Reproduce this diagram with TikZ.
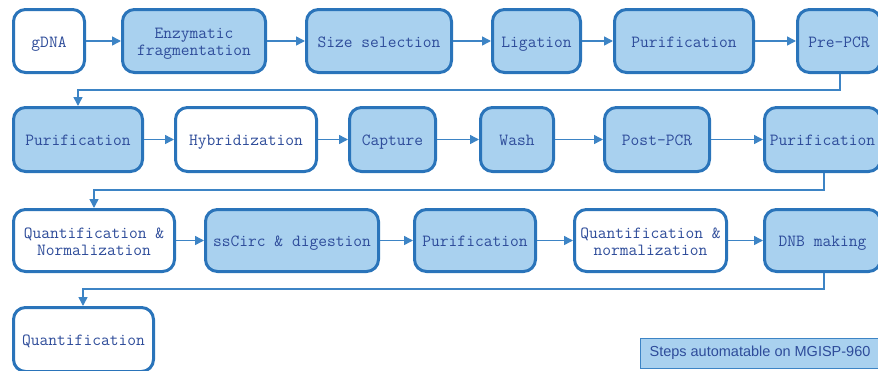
\documentclass[tikz,border=0pt]{standalone}
\usepackage{fontspec}
\newfontfamily\legendfont{Liberation Sans}
\usetikzlibrary{arrows.meta}
\definecolor{boxborder}{HTML}{2A74BA}
\definecolor{boxfill}{HTML}{A9D1EF}
\definecolor{boxtext}{HTML}{2E4C9A}
\definecolor{connline}{HTML}{3D84C5}
\tikzset{
  stepbase/.style={draw=boxborder, line width=3pt, rounded corners=12pt, inner sep=0pt},
  autostep/.style={stepbase, fill=boxfill},
  manualstep/.style={stepbase, fill=white},
  steptext/.style={text=boxtext, font=\ttfamily\fontsize{17}{16}\selectfont, inner sep=0pt,
    anchor=base, execute at begin node={\vphantom{A}}},
  conn/.style={draw=connline, line width=1.5pt, -{Triangle[length=9pt,width=9pt]}},
  legendbox/.style={draw=connline, line width=1pt, fill=boxfill, text=boxtext,
    font=\legendfont\fontsize{14.5}{15}\selectfont, inner sep=0pt}
}
\newcommand\stepnode[7]{\node[#6, minimum width={#4-#2-3}, minimum height={#5-#3-3}] (#1) at ({(#2+#4)/2},{(#3+#5)/2}) {};
  \node[steptext] (#1-t) at ([yshift=-6pt]#1.center) {#7};}
\newcommand\steptwo[8]{\node[#6, minimum width={#4-#2-3}, minimum height={#5-#3-3}] (#1) at ({(#2+#4)/2},{(#3+#5)/2}) {};
  \node[steptext] (#1-ta) at ([yshift=2.5pt]#1.center) {#7};
  \node[steptext] (#1-tb) at ([yshift=-14.5pt]#1.center) {#8};}
\begin{document}
\begin{tikzpicture}[x=1pt,y=-1pt]
\useasboundingbox (0,0) rectangle (878,370);
\clip (0,0) rectangle (878,370);
% row 1
\stepnode{gdna}{12}{8}{86}{74}{manualstep}{gDNA}
\steptwo{enz}{121}{8}{267}{74}{autostep}{Enzymatic}{fragmentation}
\stepnode{size}{305}{8}{453}{74}{autostep}{Size selection}
\stepnode{lig}{491}{8}{582}{74}{autostep}{Ligation}
\stepnode{purA}{613}{8}{755}{74}{autostep}{Purification}
\stepnode{pre}{796}{8}{882}{74}{autostep}{Pre-PCR}
% row 2
\stepnode{purB}{12}{106}{144}{173}{autostep}{Purification}
\stepnode{hyb}{174}{106}{318}{173}{manualstep}{Hybridization}
\stepnode{cap}{348}{106}{437}{173}{autostep}{Capture}
\stepnode{wash}{479}{106}{555}{173}{autostep}{Wash}
\stepnode{post}{603}{106}{711}{173}{autostep}{Post-PCR}
\stepnode{purC}{763}{106}{882}{173}{autostep}{Purification}
% row 3
\steptwo{qn}{12}{208}{176}{273}{manualstep}{Quantification \&}{Normalization}
\stepnode{circ}{204}{208}{380}{273}{autostep}{ssCirc \& digestion}
\stepnode{purD}{413}{208}{537}{273}{autostep}{Purification}
\steptwo{qn2}{573}{208}{728}{273}{manualstep}{Quantification \&}{normalization}
\stepnode{dnb}{763}{208}{882}{273}{autostep}{DNB making}
% row 4
\stepnode{quant}{12}{306}{155}{373}{manualstep}{Quantification}
% legend
\node[legendbox, minimum width=240pt, minimum height=30pt] (legend) at (760,353) {Steps automatable on MGISP-960};
% connectors row 1
\draw[conn] (gdna) -- (enz);
\draw[conn] (enz) -- (size);
\draw[conn] (size) -- (lig);
\draw[conn] (lig) -- (purA);
\draw[conn] (purA) -- (pre);
% wrap 1
\coordinate (w1a) at (840,90);
\coordinate (w1b) at (78,90);
\draw[conn] (pre.south -| w1a) -- (w1a) -- (w1b) -- (purB.north -| w1b);
% row 2
\draw[conn] (purB) -- (hyb);
\draw[conn] (hyb) -- (cap);
\draw[conn] (cap) -- (wash);
\draw[conn] (wash) -- (post);
\draw[conn] (post) -- (purC);
% wrap 2
\coordinate (w2a) at (824,190);
\coordinate (w2b) at (94,190);
\draw[conn] (purC.south -| w2a) -- (w2a) -- (w2b) -- (qn.north -| w2b);
% row 3
\draw[conn] (qn) -- (circ);
\draw[conn] (circ) -- (purD);
\draw[conn] (purD) -- (qn2);
\draw[conn] (qn2) -- (dnb);
% wrap 3
\coordinate (w3a) at (824,289);
\coordinate (w3b) at (83,289);
\draw[conn] (dnb.south -| w3a) -- (w3a) -- (w3b) -- (quant.north -| w3b);
\end{tikzpicture}
\end{document}
